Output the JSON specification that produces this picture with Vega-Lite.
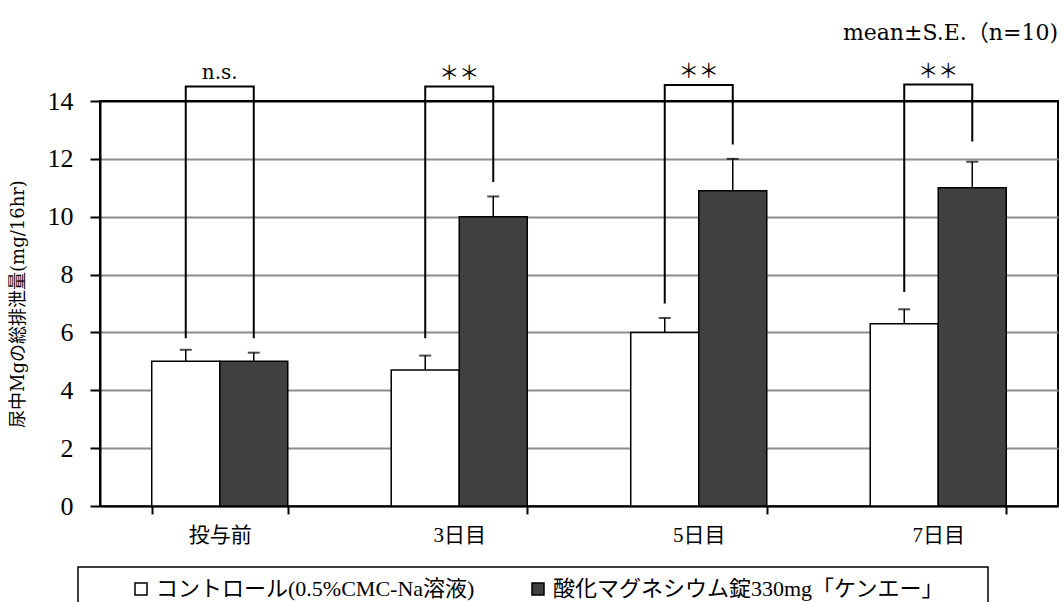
{
  "$schema": "https://vega.github.io/schema/vega-lite/v6.json",
  "width": 958,
  "height": 405,
  "autosize": {"type": "none"},
  "padding": {"left": 100, "top": 101, "right": 4, "bottom": 96},
  "background": "white",
  "config": {
    "font": "Liberation Serif, Noto Sans CJK JP",
    "view": {"stroke": "black", "strokeWidth": 2},
    "axis": {
      "domainColor": "black", "domainWidth": 2, "tickColor": "black", "tickWidth": 2,
      "labelColor": "black", "titleColor": "black",
      "labelFont": "Liberation Serif, Noto Sans CJK JP", "titleFont": "DejaVu Serif, Noto Sans CJK JP"
    },
    "legend": {"strokeWidth": 1.5}
  },
  "title": {
    "text": "mean±S.E.（n=10)", "anchor": "end", "frame": "group",
    "fontSize": 22, "fontWeight": "normal", "color": "black", "offset": 17,
    "font": "DejaVu Serif, Noto Sans CJK JP"
  },
  "datasets": {
    "bars": [
      {"day": "投与前", "group": "コントロール(0.5%CMC-Na溶液)", "mean": 5.0, "upper": 5.4},
      {"day": "投与前", "group": "酸化マグネシウム錠330mg「ケンエー」", "mean": 5.0, "upper": 5.3},
      {"day": "3日目", "group": "コントロール(0.5%CMC-Na溶液)", "mean": 4.7, "upper": 5.2},
      {"day": "3日目", "group": "酸化マグネシウム錠330mg「ケンエー」", "mean": 10.0, "upper": 10.7},
      {"day": "5日目", "group": "コントロール(0.5%CMC-Na溶液)", "mean": 6.0, "upper": 6.5},
      {"day": "5日目", "group": "酸化マグネシウム錠330mg「ケンエー」", "mean": 10.9, "upper": 12.0},
      {"day": "7日目", "group": "コントロール(0.5%CMC-Na溶液)", "mean": 6.3, "upper": 6.8},
      {"day": "7日目", "group": "酸化マグネシウム錠330mg「ケンエー」", "mean": 11.0, "upper": 11.9}
    ],
    "brackets": [
      {"day": "投与前", "group": "コントロール(0.5%CMC-Na溶液)", "y": 5.8, "seq": 1},
      {"day": "投与前", "group": "コントロール(0.5%CMC-Na溶液)", "y": 14.5, "seq": 2},
      {"day": "投与前", "group": "酸化マグネシウム錠330mg「ケンエー」", "y": 14.5, "seq": 3},
      {"day": "投与前", "group": "酸化マグネシウム錠330mg「ケンエー」", "y": 5.8, "seq": 4},
      {"day": "3日目", "group": "コントロール(0.5%CMC-Na溶液)", "y": 5.8, "seq": 1},
      {"day": "3日目", "group": "コントロール(0.5%CMC-Na溶液)", "y": 14.5, "seq": 2},
      {"day": "3日目", "group": "酸化マグネシウム錠330mg「ケンエー」", "y": 14.5, "seq": 3},
      {"day": "3日目", "group": "酸化マグネシウム錠330mg「ケンエー」", "y": 11.2, "seq": 4},
      {"day": "5日目", "group": "コントロール(0.5%CMC-Na溶液)", "y": 7.0, "seq": 1},
      {"day": "5日目", "group": "コントロール(0.5%CMC-Na溶液)", "y": 14.55, "seq": 2},
      {"day": "5日目", "group": "酸化マグネシウム錠330mg「ケンエー」", "y": 14.55, "seq": 3},
      {"day": "5日目", "group": "酸化マグネシウム錠330mg「ケンエー」", "y": 12.5, "seq": 4},
      {"day": "7日目", "group": "コントロール(0.5%CMC-Na溶液)", "y": 7.4, "seq": 1},
      {"day": "7日目", "group": "コントロール(0.5%CMC-Na溶液)", "y": 14.57, "seq": 2},
      {"day": "7日目", "group": "酸化マグネシウム錠330mg「ケンエー」", "y": 14.57, "seq": 3},
      {"day": "7日目", "group": "酸化マグネシウム錠330mg「ケンエー」", "y": 12.6, "seq": 4}
    ],
    "ns": [
      {"day": "投与前", "label": "n.s.", "y": 14.5}
    ],
    "stars": [
      {"day": "3日目", "label": "＊＊", "y": 14.5},
      {"day": "5日目", "label": "＊＊", "y": 14.55},
      {"day": "7日目", "label": "＊＊", "y": 14.57}
    ]
  },
  "layer": [
    {
      "data": {"name": "bars"},
      "mark": {"type": "bar", "stroke": "black", "strokeWidth": 1.5},
      "encoding": {
        "x": {
          "field": "day", "type": "nominal", "sort": ["投与前", "3日目", "5日目", "7日目"],
          "scale": {"paddingInner": 0.432, "paddingOuter": 0.216},
          "axis": {
            "title": null, "labelAngle": 0, "tickBand": "extent", "tickSize": 8,
            "labelFontSize": 21, "labelPadding": 10, "grid": false
          }
        },
        "xOffset": {
          "field": "group", "type": "nominal",
          "sort": ["コントロール(0.5%CMC-Na溶液)", "酸化マグネシウム錠330mg「ケンエー」"],
          "scale": {"paddingInner": 0, "paddingOuter": 0}
        },
        "y": {
          "field": "mean", "type": "quantitative",
          "scale": {"domain": [0, 14], "nice": false},
          "axis": {
            "title": "尿中Mgの総排泄量(mg/16hr)", "titleFontSize": 18, "titleFontWeight": "normal", "titlePadding": 20,
            "values": [0, 2, 4, 6, 8, 10, 12, 14],
            "labelFontSize": 26, "labelPadding": 17, "tickSize": 10,
            "grid": true, "gridWidth": 2,
            "gridColor": {"condition": {"test": "datum.value >= 14", "value": "black"}, "value": "#8c8c8c"}
          }
        },
        "color": {
          "field": "group", "type": "nominal",
          "scale": {
            "domain": ["コントロール(0.5%CMC-Na溶液)", "酸化マグネシウム錠330mg「ケンエー」"],
            "range": ["white", "#404040"]
          },
          "legend": {
            "orient": "none", "legendX": -22, "legendY": 466, "direction": "horizontal",
            "title": "　", "titleOrient": "left", "titlePadding": 41, "titleFontSize": 20, "titleColor": "transparent",
            "padding": 11, "strokeColor": "black",
            "symbolType": "square", "symbolSize": 144, "symbolStrokeColor": "black", "symbolStrokeWidth": 1.5,
            "labelFontSize": 22, "labelColor": "black", "labelOffset": 4, "labelLimit": 800,
            "labelFont": "Liberation Serif, Noto Sans CJK JP",
            "columnPadding": 52,
            "labelExpr": "indexof(datum.label, '酸化') >= 0 ? datum.label + '\u2800\u2800' : datum.label"
          }
        }
      }
    },
    {
      "data": {"name": "bars"},
      "mark": {"type": "rule", "color": "black", "strokeWidth": 1.5},
      "encoding": {
        "x": {"field": "day", "type": "nominal", "sort": ["投与前", "3日目", "5日目", "7日目"]},
        "xOffset": {"field": "group", "type": "nominal", "sort": ["コントロール(0.5%CMC-Na溶液)", "酸化マグネシウム錠330mg「ケンエー」"]},
        "y": {"field": "mean", "type": "quantitative"},
        "y2": {"field": "upper"}
      }
    },
    {
      "data": {"name": "bars"},
      "mark": {"type": "tick", "color": "black", "size": 12, "thickness": 2},
      "encoding": {
        "x": {"field": "day", "type": "nominal", "sort": ["投与前", "3日目", "5日目", "7日目"]},
        "xOffset": {"field": "group", "type": "nominal", "sort": ["コントロール(0.5%CMC-Na溶液)", "酸化マグネシウム錠330mg「ケンエー」"]},
        "y": {"field": "upper", "type": "quantitative"}
      }
    },
    {
      "data": {"name": "brackets"},
      "mark": {"type": "line", "color": "black", "strokeWidth": 2},
      "encoding": {
        "x": {"field": "day", "type": "nominal", "sort": ["投与前", "3日目", "5日目", "7日目"]},
        "xOffset": {"field": "group", "type": "nominal", "sort": ["コントロール(0.5%CMC-Na溶液)", "酸化マグネシウム錠330mg「ケンエー」"]},
        "y": {"field": "y", "type": "quantitative"},
        "detail": {"field": "day"},
        "order": {"field": "seq", "type": "quantitative"}
      }
    },
    {
      "data": {"name": "ns"},
      "mark": {"type": "text", "fontSize": 20, "font": "DejaVu Serif", "color": "black", "baseline": "middle", "dy": -14},
      "encoding": {
        "x": {"field": "day", "type": "nominal", "sort": ["投与前", "3日目", "5日目", "7日目"]},
        "y": {"field": "y", "type": "quantitative"},
        "text": {"field": "label"}
      }
    },
    {
      "data": {"name": "stars"},
      "mark": {"type": "text", "fontSize": 20, "color": "black", "baseline": "middle", "dy": -13},
      "encoding": {
        "x": {"field": "day", "type": "nominal", "sort": ["投与前", "3日目", "5日目", "7日目"]},
        "y": {"field": "y", "type": "quantitative"},
        "text": {"field": "label"}
      }
    }
  ]
}
